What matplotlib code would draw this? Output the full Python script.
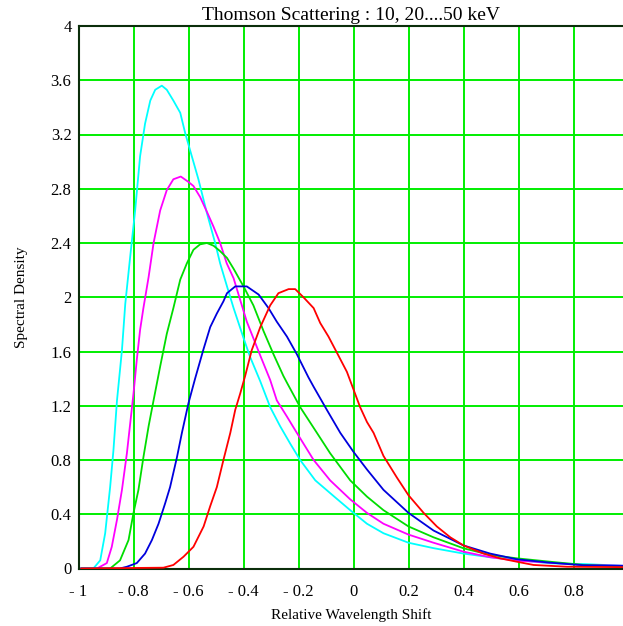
import numpy as np
import matplotlib
matplotlib.use('Agg')
import matplotlib.pyplot as plt

# Curvas (x = deslocamento relativo, y = densidade espectral)
cyan_x = [-0.99, -0.946, -0.921, -0.903, -0.885, -0.873, -0.860, -0.842, -0.830, -0.812, -0.794,
          -0.776, -0.758, -0.739, -0.721, -0.697, -0.679, -0.655, -0.630, -0.612, -0.588, -0.564,
          -0.533, -0.503, -0.485, -0.460, -0.436, -0.400, -0.376, -0.339, -0.303, -0.267, -0.230,
          -0.194, -0.139, -0.070, -0.012, 0.049, 0.109, 0.200, 0.291, 0.400, 0.497, 0.594, 0.715,
          0.836, 0.98]
cyan_y = [0.0, 0.0, 0.06, 0.26, 0.60, 0.87, 1.24, 1.61, 1.95, 2.30, 2.64,
          3.04, 3.28, 3.45, 3.53, 3.56, 3.53, 3.45, 3.36, 3.21, 3.04, 2.87,
          2.62, 2.40, 2.25, 2.08, 1.92, 1.70, 1.56, 1.38, 1.19, 1.05, 0.92,
          0.80, 0.65, 0.53, 0.43, 0.33, 0.26, 0.19, 0.15, 0.11, 0.083, 0.063, 0.038,
          0.033, 0.02]

magenta_x = [-0.99, -0.933, -0.897, -0.879, -0.860, -0.842, -0.824, -0.812, -0.800, -0.788, -0.776,
             -0.764, -0.745, -0.727, -0.703, -0.679, -0.655, -0.628, -0.600, -0.582, -0.558, -0.533,
             -0.509, -0.485, -0.461, -0.436, -0.388, -0.339, -0.303, -0.279, -0.242, -0.206, -0.145,
             -0.085, -0.012, 0.049, 0.109, 0.200, 0.291, 0.400, 0.497, 0.594, 0.715, 0.836, 0.98]
magenta_y = [0.0, 0.0, 0.04, 0.16, 0.36, 0.58, 0.85, 1.07, 1.29, 1.54, 1.76,
             1.92, 2.15, 2.40, 2.64, 2.79, 2.87, 2.89, 2.85, 2.82, 2.74, 2.63,
             2.52, 2.40, 2.25, 2.14, 1.82, 1.57, 1.39, 1.24, 1.12, 1.00, 0.80,
             0.65, 0.51, 0.41, 0.33, 0.25, 0.19, 0.124, 0.083, 0.058, 0.043, 0.026, 0.02]

green_x = [-0.99, -0.885, -0.849, -0.818, -0.800, -0.782, -0.764, -0.745, -0.727, -0.703, -0.679,
           -0.655, -0.630, -0.606, -0.582, -0.558, -0.533, -0.509, -0.485, -0.460, -0.436, -0.400,
           -0.364, -0.327, -0.291, -0.255, -0.242, -0.194, -0.133, -0.085, -0.012, 0.049, 0.109,
           0.200, 0.291, 0.400, 0.497, 0.594, 0.715, 0.836, 0.98]
green_y = [0.0, 0.0, 0.06, 0.21, 0.41, 0.58, 0.82, 1.05, 1.24, 1.49, 1.73,
           1.92, 2.13, 2.25, 2.35, 2.39, 2.40, 2.38, 2.34, 2.29, 2.21, 2.08,
           1.94, 1.75, 1.58, 1.42, 1.37, 1.19, 1.00, 0.85, 0.65, 0.53, 0.43,
           0.31, 0.23, 0.149, 0.10, 0.075, 0.05, 0.026, 0.015]

blue_x = [-0.99, -0.850, -0.824, -0.788, -0.758, -0.733, -0.709, -0.685, -0.667, -0.642, -0.624,
          -0.600, -0.576, -0.545, -0.521, -0.497, -0.473, -0.460, -0.430, -0.388, -0.345, -0.309,
          -0.279, -0.242, -0.206, -0.164, -0.145, -0.097, -0.048, 0.000, 0.049, 0.109, 0.200,
          0.291, 0.400, 0.497, 0.594, 0.715, 0.836, 0.98]
blue_y = [0.0, 0.0, 0.013, 0.04, 0.11, 0.21, 0.33, 0.48, 0.60, 0.82, 1.00,
          1.22, 1.40, 1.62, 1.78, 1.88, 1.97, 2.03, 2.08, 2.08, 2.02, 1.92,
          1.82, 1.71, 1.58, 1.41, 1.34, 1.17, 1.00, 0.86, 0.73, 0.58, 0.41,
          0.28, 0.17, 0.11, 0.068, 0.043, 0.024, 0.02]

red_x = [-0.99, -0.691, -0.655, -0.618, -0.582, -0.545, -0.521, -0.497, -0.473, -0.448, -0.430,
         -0.412, -0.394, -0.370, -0.339, -0.303, -0.273, -0.236, -0.212, -0.182, -0.145, -0.121,
         -0.091, -0.060, -0.024, 0.024, 0.049, 0.073, 0.109, 0.158, 0.200, 0.255, 0.303,
         0.352, 0.400, 0.473, 0.533, 0.594, 0.655, 0.776, 0.98]
red_y = [0.0, 0.006, 0.026, 0.087, 0.16, 0.31, 0.46, 0.60, 0.80, 1.00, 1.17,
         1.29, 1.42, 1.61, 1.78, 1.94, 2.03, 2.06, 2.06, 2.00, 1.92, 1.81,
         1.71, 1.59, 1.45, 1.19, 1.08, 1.00, 0.83, 0.67, 0.54, 0.41, 0.31,
         0.23, 0.17, 0.11, 0.075, 0.05, 0.026, 0.013, 0.01]

x_ticks = [-1, -0.8, -0.6, -0.4, -0.2, 0, 0.2, 0.4, 0.6, 0.8]
x_ticklabels = ['- 1', '- 0.8', '- 0.6', '- 0.4', '- 0.2', '0', '0.2', '0.4', '0.6', '0.8']
y_ticks = [0, 0.4, 0.8, 1.2, 1.6, 2, 2.4, 2.8, 3.2, 3.6, 4]
y_ticklabels = ['0', '0.4', '0.8', '1.2', '1.6', '2', '2.4', '2.8', '3.2', '3.6', '4']

#%%
plt.rcParams['font.family'] = 'Liberation Serif'

fig = plt.figure(figsize=(6.23, 6.26), dpi=100)
ax = fig.add_axes([78.5 / 623, (626 - 568.5) / 626, (623 - 78.5) / 623, (568.5 - 26) / 626])

grid_color = '#00ee00'
for xv in x_ticks[1:]:
    ax.axvline(xv, color=grid_color, lw=1.4, zorder=1)
for yv in y_ticks:
    ax.axhline(yv, color=grid_color, lw=1.4, zorder=1)

series = [(cyan_x, cyan_y, '#00ffff'), (magenta_x, magenta_y, '#ff00ff'),
          (green_x, green_y, '#00dd00'), (blue_x, blue_y, '#0000dd'),
          (red_x, red_y, '#ff0000')]
for xs, ys, c in series:
    ax.plot(xs, ys, color=c, lw=1.3, zorder=3)

ax.set_xlim(-1, 0.98)
ax.set_ylim(0, 4)
ax.set_xticks(x_ticks)
ax.set_xticklabels(x_ticklabels)
ax.set_yticks(y_ticks)
ax.set_yticklabels(y_ticklabels)
ax.tick_params(axis='both', length=0, labelsize=12)
ax.tick_params(axis='x', pad=11)
ax.tick_params(axis='y', pad=5)

for s in ['left', 'bottom', 'top']:
    ax.spines[s].set_color('#0b2e0b')
    ax.spines[s].set_linewidth(1.5)
ax.spines['right'].set_visible(False)

ax.set_title('Thomson Scattering : 10, 20....50 keV', fontsize=14, pad=4)
ax.set_xlabel('Relative Wavelength Shift', fontsize=11, labelpad=6)
ax.set_ylabel('Spectral Density', fontsize=11, labelpad=16)

plt.savefig('out.png', dpi=100)
